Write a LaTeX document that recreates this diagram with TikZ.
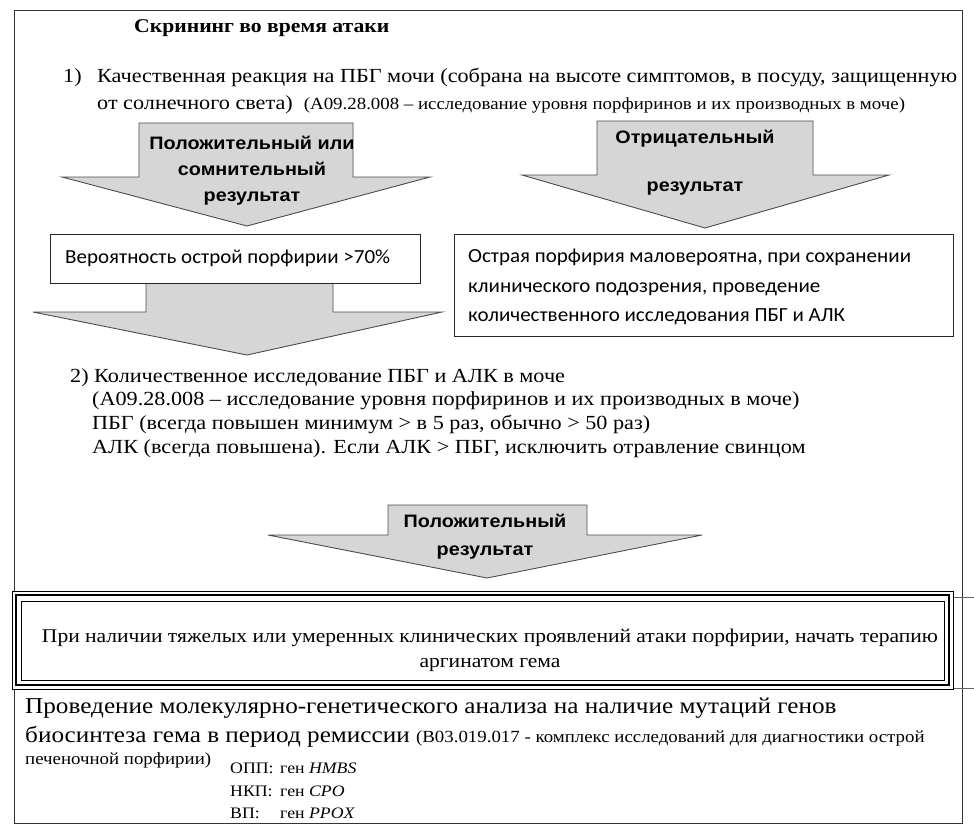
\documentclass[tikz,border=0pt]{standalone}
\usepackage{fontspec}
\setmainfont{Liberation Serif}[FakeStretch=1.11]
\newfontfamily\headfont{Liberation Sans}[FakeStretch=1.1]
\newfontfamily\boxfont{Carlito}[FakeStretch=1.05]
\usetikzlibrary{positioning}
\tikzset{
  blockarrow/.style={draw=black!70, fill=black!16, line width=0.9pt, line join=miter},
  resultbox/.style={draw=black!85, fill=white, line width=0.9pt, inner sep=0pt},
  arrowtext/.style={font=\headfont\bfseries\fontsize{18}{22}\selectfont, anchor=base, inner sep=0pt},
  boxtext/.style={font=\boxfont\fontsize{20}{24}\selectfont, anchor=base west, inner sep=0pt},
  bodytext/.style={font=\fontsize{20}{24}\selectfont, anchor=base west, inner sep=0pt},
  smalltext/.style={bodytext, font=\fontsize{17}{20}\selectfont},
  genetext/.style={bodytext, font=\fontsize{16}{20}\selectfont},
}
\begin{document}
\begin{tikzpicture}[x=1pt,y=-1pt]
\useasboundingbox (0,0) rectangle (974,836);
% outer frame
\draw[black!80, line width=1pt] (14,10) rectangle (962,823);

% title and step 1
\node[bodytext, font=\bfseries\fontsize{19.5}{22}\selectfont] (title) at (134,32) {Скрининг во время атаки};
\node[bodytext] (one) at (63,82) {1)};
\node[bodytext] (onea) at (97,82) {Качественная реакция на ПБГ мочи (собрана на высоте симптомов, в посуду, защищенную};
\node[bodytext] (oneb) at (97,109) {от солнечного света)\ \ {\fontsize{17}{20}\selectfont (A09.28.008 – исследование уровня порфиринов и их производных в моче)}};

% positive or doubtful
\draw[blockarrow] (139,123) -- (353,123) -- (353,177) -- (430,177) -- (247,226) -- (62,177) -- (139,177) -- cycle;
\node[arrowtext] (posa) at (252,149) {Положительный или};
\node[arrowtext] (posb) at (252,175) {сомнительный};
\node[arrowtext] (posc) at (252,201) {результат};

% negative
\draw[blockarrow] (597,121) -- (813,121) -- (813,175) -- (889,175) -- (705,228) -- (522,175) -- (597,175) -- cycle;
\node[arrowtext] (nega) at (695,143) {Отрицательный};
\node[arrowtext] (negb) at (695,191) {результат};

% probability box and arrow below it
\draw[blockarrow] (146,283) -- (333,283) -- (333,312) -- (442,312) -- (247,355) -- (33,312) -- (146,312) -- cycle;
\node[resultbox, anchor=north west, minimum width=370, minimum height=49] (probbox) at (50,234) {};
\node[boxtext] (prob) at (65,263) {Вероятность острой порфирии >70\%};

% unlikely box
\node[resultbox, anchor=north west, minimum width=499, minimum height=102] (unlbox) at (454,234) {};
\node[boxtext] (unla) at (468,262) {Острая порфирия маловероятна, при сохранении};
\node[boxtext] (unlb) at (468,292) {клинического подозрения, проведение};
\node[boxtext] (unlc) at (468,321) {количественного исследования ПБГ и АЛК};

% step 2
\node[bodytext] (two) at (70,382) {2) Количественное исследование ПБГ и АЛК в моче};
\node[bodytext] (twoa) at (92,405) {(A09.28.008 – исследование уровня порфиринов и их производных в моче)};
\node[bodytext] (twob) at (92,429) {ПБГ (всегда повышен минимум > в 5 раз, обычно > 50 раз)};
\node[bodytext] (twoc) at (92,453) {АЛК (всегда повышена). Если АЛК > ПБГ, исключить отравление свинцом};

% positive
\draw[blockarrow] (388,505) -- (587,505) -- (587,535) -- (702,535) -- (487,578) -- (268,535) -- (388,535) -- cycle;
\node[arrowtext] (posd) at (485,527) {Положительный};
\node[arrowtext] (pose) at (485,555) {результат};

% therapy box
\draw[black!60, line width=0.6pt] (953,597) -- (974,597) (953,688) -- (974,688);
\draw[fill=white, line width=0.8pt] (12,591) rectangle (953,689);
\draw[line width=2.6pt] (16,595) rectangle (949,685);
\draw[line width=0.8pt] (21,601) rectangle (944,680);
\node[bodytext, font=\fontsize{19.4}{24}\selectfont, anchor=base] (thera) at (490,642) {При наличии тяжелых или умеренных клинических проявлений атаки порфирии, начать терапию};
\node[bodytext, font=\fontsize{19.4}{24}\selectfont, anchor=base] (therb) at (490,667) {аргинатом гема};

% genetics
\node[bodytext, font=\fontsize{22.7}{26}\selectfont] (gena) at (25,713) {Проведение молекулярно-генетического анализа на наличие мутаций генов};
\node[bodytext, font=\fontsize{22.7}{26}\selectfont] (genb) at (25,742) {биосинтеза гема в период ремиссии {\fontsize{17}{20}\selectfont (B03.019.017 - комплекс исследований для диагностики острой}};
\node[smalltext] (genc) at (25,764) {печеночной порфирии)};
\node[genetext] (opp) at (230,773) {ОПП:};
\node[genetext] (oppg) at (280,773) {ген \textit{HMBS}};
\node[genetext] (nkp) at (230,796) {НКП:};
\node[genetext] (nkpg) at (280,796) {ген \textit{CPO}};
\node[genetext] (vp) at (230,818) {ВП:};
\node[genetext] (vpg) at (280,818) {ген \textit{PPOX}};
\end{tikzpicture}
\end{document}
